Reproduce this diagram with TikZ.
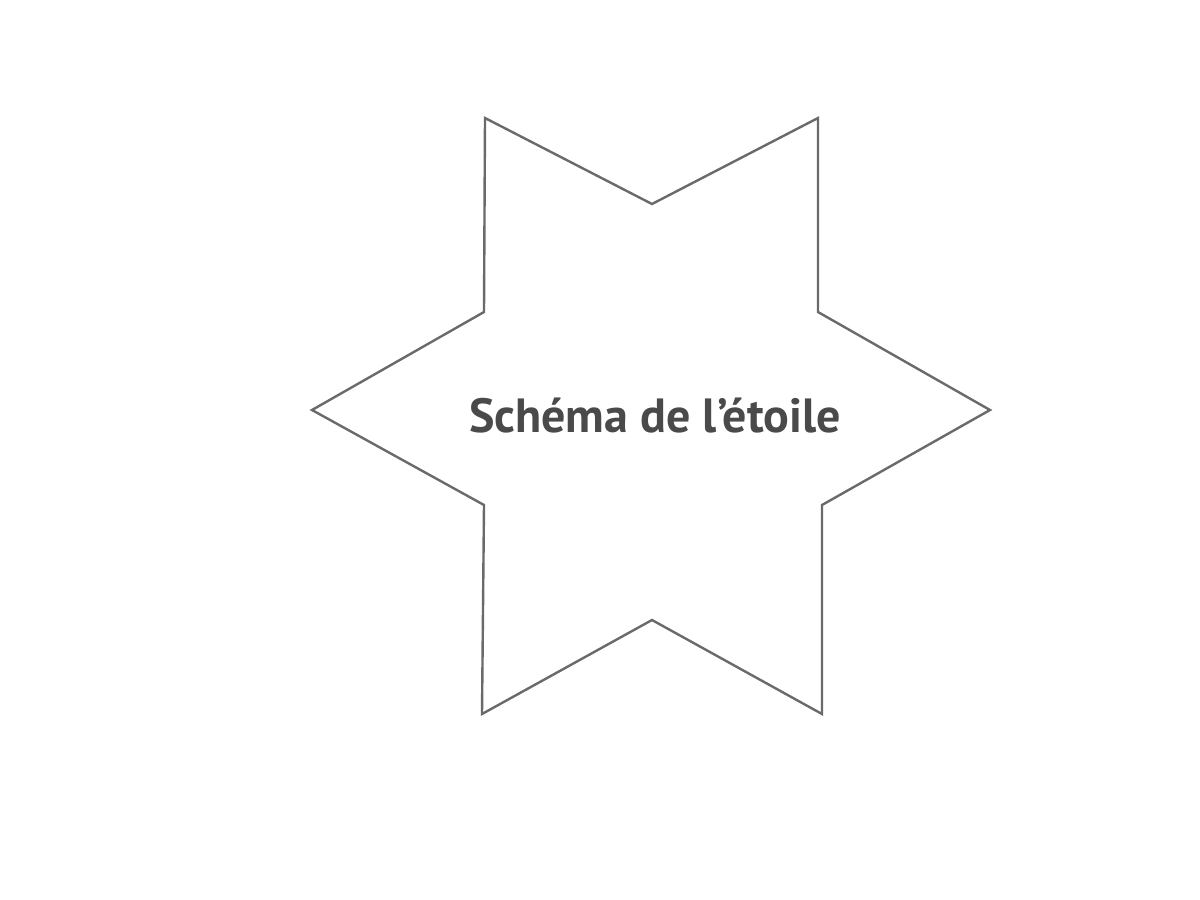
\documentclass[tikz,border=0pt]{standalone}
\usepackage{fontspec}
\setmainfont{PT Sans}
\definecolor{starline}{HTML}{6A6A6A}
\definecolor{labeltext}{HTML}{4A4A4A}
\begin{document}
\begin{tikzpicture}[x=0.5pt,y=-0.5pt,
  starshape/.style={draw=starline,line width=1.2pt,line join=miter},
  starlabel/.style={text=labeltext,font=\fontsize{24}{28}\selectfont\bfseries,inner sep=0pt}]
\useasboundingbox (0,0) rectangle (1200,900);
\draw[starshape] (485,118) -- (652,204) -- (818,118) -- (818,312) -- (990,410)
  -- (822,505) -- (822,714) -- (652,620) -- (482,714) -- (484,505)
  -- (312,410) -- (484,312) -- cycle;
\node[starlabel,anchor=base] (label) at (655,432) {Schéma de l\symbol{39}étoile};
\end{tikzpicture}
\end{document}
